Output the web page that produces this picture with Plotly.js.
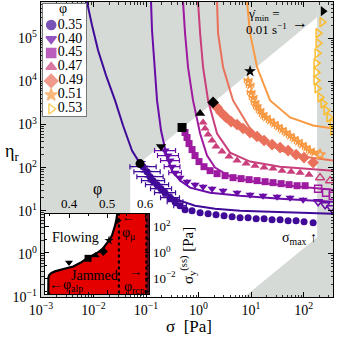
<!DOCTYPE html>
<html><head><meta charset="utf-8">
<script src="https://cdn.plot.ly/plotly-3.0.1.min.js"></script>
<style>html,body{margin:0;padding:0;background:#fff}#chart{width:337px;height:337px}</style>
</head><body><div id="chart"></div>
<script>
// ---------- categories / styles ----------
const phiLabels = ['0.35','0.40','0.45','0.47','0.49','0.51','0.53'];
const colors = ['#400a98','#6a0ca8','#9e1aa0','#c93f7c','#e9705a','#f89a44','#fbbd2c'];
const symbols = ['circle','triangle-down','square','triangle-up','diamond','star','triangle-right-open'];
const openSymbols = ['circle-open','triangle-down-open','square-open','triangle-up-open','diamond-open','star-open','triangle-right-open'];
const blackSymbols = ['circle','triangle-down','square','triangle-up','diamond','star','triangle-right'];
const sizes = [7,8,7,8,9,8,8];

// ---------- main data: sigma [Pa], eta_r ----------
const sig035 = [0.0877,0.1045,0.119,0.136,0.162,0.193,0.230,0.286,0.357,0.444,0.553,0.752,1.07,1.52,2.15,3.06,4.35,6.17,8.77,12.5,17.7,25.1,35.7,50.7,72.0,102,152];
const eta035 = [105,80.7,61.8,49.9,40.3,32.5,26.2,20.1,16.2,13.1,10.6,10.0,8.98,8.51,8.07,7.65,7.25,6.87,6.87,6.51,6.51,6.18,6.18,5.85,5.85,5.55,5.26];
const errX035 = [0.25,0.25,0.25,0.22,0.22,0.2,0.2,0.18,0.15,0.12];
const errY035 = [0.12,0.12,0.12,0.1,0.1,0.1,0.08,0.08,0.06,0.05];

const sig040 = [0.230,0.262,0.286,0.313,0.357,0.444,0.604,0.857,1.22,1.81,2.93,5.41,9.57,16.9,31.3,55.3,97.8];
const eta040 = [248,190,146,105,76.5,58.5,47.2,40.3,36.2,32.5,29.2,26.2,23.6,22.3,21.2,20.1,18.0];
const errX040 = [0.2,0.2,0.18,0.15,0.12];
const sig040o = [189,257,334];
const eta040o = [16.2,13.8,11.7];

const sig045 = [0.553,0.604,0.659,0.752,0.857,1.02,1.27,1.66,2.25,3.20,4.54,6.45,9.16,13.0,18.5,26.2,37.3,52.9,75.2,107];
const eta045 = [651,499,361,262,190,138,105,85.1,72.5,65.1,58.5,55.5,52.6,49.9,47.2,44.8,42.5,40.3,38.1,38.1];
const sig045o = [189,268,360];
const eta045o = [32.5,26.2,22.3];

const sig047 = [1.22,1.33,1.52,1.81,2.15,2.80,3.81,5.41,8.03,11.9,17.7,26.2,38.9,57.8,85.7,127];
const eta047 = [1110,807,585,425,308,236,180,146,124,111,100,94.8,85.1,80.7,76.5,68.7];
const sig047o = [206,320];
const eta047o = [58.5,49.9];

const sig049 = [2.25,2.68,3.35,4.16,5.41,7.05,9.57,13.0,17.7,25.1,35.7,50.7,72.0,102,152];
const eta049 = [2490,1900,1460,1170,1000,807,651,526,425,343,292,248,200,171,131];

const sig051 = [8.77,9.57,10.0,10.9,11.9,13.0,14.8,16.9,19.3,23.0,27.4,32.7,38.9,46.4,55.3,65.9,78.6,93.6,112,133,158];
const eta051 = [10500,8070,5550,4250,3250,2620,2120,1710,1460,1240,1050,898,765,651,555,472,403,343,292,248,223];
const errX051 = [0.07,0.07,0.07,0.07,0.07,0.07,0.07,0.07,0.07,0.07,0.07,0.07,0.07,0.07,0.07,0.07,0.07,0.07,0.07,0.07,0.07];
const sig051o = [206];
const eta051o = [200];

const sig053 = [225,189,189,181,173,173,173,181,206,235,268,306,349,360];
const eta053 = [236000,131000,76500,44800,26200,16200,10500,6870,4250,3080,2120,1460,1050,725];

// yield points (black markers, on the minimum shear-rate line)
const sigYield = [0.0769,0.193,0.485,1.07,1.89,9.57,235];
const etaYield = [124,308,851,1800,3250,17100,425000];

// model curves
const line035s = [0.00719,0.00752,0.00936,0.0122,0.0173,0.0257,0.0365,0.0540,0.0769,0.119,0.185,0.286,0.444,0.857,2.06,6.17,23.0,85.7,365];
const line035e = [1.17e6,687000,200000,52600,13800,3610,948,248,124,58.5,34.3,22.3,17.1,13.1,11.1,10.0,9.48,8.98,8.51];
const line040s = [0.119,0.1245,0.130,0.142,0.162,0.193,0.251,0.313,0.444,0.689,1.66,6.17,35.7,365];
const line040e = [1.17e6,687000,153000,30800,3610,725,171,85.1,49.9,34.3,26.2,22.3,19.0,16.2];
const line045s = [0.485,0.507,0.553,0.631,0.785,1.07,1.45,2.06,3.98,14.8,85.7,365];
const line045e = [1.17e6,687000,131000,21200,3610,618,190,100,61.8,44.8,36.2,30.8];
const line047s = [0.936,0.978,1.07,1.22,1.52,2.25,3.98,9.57,35.7,365];
const line047e = [1.17e6,687000,131000,21200,3610,618,223,138,105,85.1];
const line049s = [2.15,2.25,2.35,2.93,4.54,10.9,35.7,133,365];
const line049e = [1.17e6,687000,131000,21200,3610,618,248,171,146];
const line051s = [8.03,8.39,9.57,13.0,23.0,55.3,152,365];
const line051e = [1.17e6,687000,131000,21200,3610,1460,948,807];

// accessible window
const sigmaMin = 0.05, sigmaMax = 181;
const etaPerSigmaUpper = 1700;   // gamma_dot_min line
const etaPerSigmaLower = 0.0135; // gamma_dot_max line

// ---------- inset data ----------
const inPhi = [0.3455,0.3455,0.346,0.348,0.353,0.363,0.376,0.393,0.411,0.43,0.447,0.462,0.476,0.489,0.50,0.507,0.513,0.518,0.521,0.524,0.526,0.528];
const inSig = [4e-4,6.3e-3,0.0112,0.0178,0.0251,0.0347,0.0417,0.0603,0.0832,0.158,0.347,0.631,1.0,2.0,4.9,10,20.4,50,120,316,708,1580];
const inPhiPts = [0.40,0.45,0.47,0.49,0.505,0.529];
const inSigPts = [0.17,0.35,0.59,1.2,8.3,290];
const phiMu = 0.531, phiRcp = 0.603;

// ---------- tick labels ----------
const xTickVals = [1e-3,1e-2,1e-1,1,10,100];
const xTickText = ['10<sup>−3</sup>','10<sup>−2</sup>','10<sup>−1</sup>','10<sup>0</sup>','10<sup>1</sup>','10<sup>2</sup>'];
const yTickVals = [0.1,1,10,100,1e3,1e4,1e5];
const yTickText = ['10<sup>−1</sup>','10<sup>0</sup>','10<sup>1</sup>','10<sup>2</sup>','10<sup>3</sup>','10<sup>4</sup>','10<sup>5</sup>'];
const inXTickVals = [0.4,0.5,0.6];
const inYTickVals = [0.01,1,100];
const inYTickText = ['10<sup>−2</sup>','10<sup>0</sup>','10<sup>2</sup>'];

// ---------- build ----------
const FONT = 'Liberation Serif, DejaVu Serif, serif';
const GRAY = '#d6dad6';
const traces = [];
function errP(v, d){ return v.map((x,i)=> d[i]==null ? null : x*(Math.pow(10,d[i])-1)); }
function errM(v, d){ return v.map((x,i)=> d[i]==null ? null : x*(1-Math.pow(10,-d[i]))); }

// gray excluded regions
const lo = 1e-4, hi = 1e4, etaLo = 1e-3, etaHi = 1e8;
traces.push({x:[lo,sigmaMin,sigmaMin,sigmaMax,sigmaMax,lo], y:[etaLo,etaLo,etaPerSigmaUpper*sigmaMin,etaPerSigmaUpper*sigmaMax,etaHi,etaHi],
  fill:'toself', fillcolor:GRAY, mode:'none', hoverinfo:'skip', showlegend:false});
traces.push({x:[sigmaMax,hi,hi,etaLo/etaPerSigmaLower,sigmaMax], y:[etaHi,etaHi,etaLo,etaLo,etaPerSigmaLower*sigmaMax],
  fill:'toself', fillcolor:GRAY, mode:'none', hoverinfo:'skip', showlegend:false});

const lines = [[line035s,line035e],[line040s,line040e],[line045s,line045e],[line047s,line047e],[line049s,line049e],[line051s,line051e]];
lines.forEach((l,i)=>traces.push({x:l[0], y:l[1], mode:'lines', line:{color:colors[i], width:2}, hoverinfo:'skip', showlegend:false}));

const series = [
  {s:sig035,e:eta035,so:[],eo:[],ex:errX035,ey:errY035},
  {s:sig040,e:eta040,so:sig040o,eo:eta040o,ex:errX040},
  {s:sig045,e:eta045,so:sig045o,eo:eta045o},
  {s:sig047,e:eta047,so:sig047o,eo:eta047o},
  {s:sig049,e:eta049,so:[],eo:[]},
  {s:sig051,e:eta051,so:sig051o,eo:eta051o,ex:errX051},
  {s:sig053,e:eta053,so:[],eo:[]}
];
series.forEach((d,i)=>{
  const t = {x:d.s, y:d.e, mode:'markers', hoverinfo:'skip', showlegend:false,
    marker:{symbol:symbols[i], size:sizes[i], color:colors[i], line:{width: symbols[i].endsWith('open')?1.5:0, color:colors[i]}}};
  if(d.ex){ t.error_x = {type:'data', symmetric:false, array:errP(d.s,d.ex), arrayminus:errM(d.s,d.ex), color:colors[i], thickness:1.2, width:2.5}; }
  if(d.ey){ t.error_y = {type:'data', symmetric:false, array:errP(d.e,d.ey), arrayminus:errM(d.e,d.ey), color:colors[i], thickness:1.2, width:2.5}; }
  traces.push(t);
  if(d.so.length){
    traces.push({x:d.so, y:d.eo, mode:'markers', hoverinfo:'skip', showlegend:false,
      marker:{symbol:openSymbols[i], size:sizes[i], color:colors[i], line:{width:1.5, color:colors[i]}}});
  }
});
traces.push({x:sigYield, y:etaYield, mode:'markers', hoverinfo:'skip', showlegend:false,
  marker:{symbol:blackSymbols, size:9, color:'black'}});

// ---------- inset ----------
traces.push({x:[0.3,0.7,0.7,0.3], y:[1e-5,1e-5,1e5,1e5], xaxis:'x2', yaxis:'y2', fill:'toself', fillcolor:'white', mode:'none', hoverinfo:'skip', showlegend:false});
traces.push({x:inPhi.concat([0.7,0.7]), y:inSig.concat([inSig[inSig.length-1], inSig[0]]), xaxis:'x2', yaxis:'y2',
  fill:'toself', fillcolor:'#e50000', mode:'none', hoverinfo:'skip', showlegend:false});
traces.push({x:[phiRcp,0.7,0.7,phiRcp], y:[1e-5,1e-5,1e5,1e5], xaxis:'x2', yaxis:'y2', fill:'toself', fillcolor:'#5a0d1e', mode:'none', hoverinfo:'skip', showlegend:false});
[phiMu, phiRcp].forEach(p=>traces.push({x:[p,p], y:[1e-5,1e5], xaxis:'x2', yaxis:'y2', mode:'lines', line:{color:'black', width:2.2, dash:'dot'}, hoverinfo:'skip', showlegend:false}));
traces.push({x:inPhi, y:inSig, xaxis:'x2', yaxis:'y2', mode:'lines', line:{color:'black', width:2.2}, hoverinfo:'skip', showlegend:false});
traces.push({x:inPhiPts, y:inSigPts, xaxis:'x2', yaxis:'y2', mode:'markers', hoverinfo:'skip', showlegend:false,
  marker:{symbol:blackSymbols.slice(1), size:7, color:'black'}});

// ---------- legend panel ----------
traces.push({x:[0,1,1,0], y:[-2,-2,8,8], xaxis:'x3', yaxis:'y3', fill:'toself', fillcolor:'white', mode:'none', hoverinfo:'skip', showlegend:false});
traces.push({x:phiLabels.map(()=>0.19), y:phiLabels.map((_,i)=>i), text:phiLabels, xaxis:'x3', yaxis:'y3', mode:'markers+text',
  textposition:'middle right', textfont:{family:FONT, size:14, color:'black'}, hoverinfo:'skip', showlegend:false,
  marker:{symbol:symbols, size:[9,9,9,9,10,9,9], color:colors, line:{width:1.6, color:colors}}});

const axBase = {showgrid:false, zeroline:false, showline:true, linecolor:'black', linewidth:1.3, ticks:'inside', tickcolor:'black', tickwidth:1, mirror:'allticks'};
const paper = (px,py)=>({x:(px-41)/292, y:(297-py)/295});
function ann(text, px, py, size, extra){ const p = paper(px,py); return Object.assign({text, x:p.x, y:p.y, xref:'paper', yref:'paper', showarrow:false, xanchor:'center', yanchor:'middle', font:{family:FONT, size:size, color:'black'}}, extra||{}); }

const layout = {
  width:337, height:337, margin:{l:41, r:4, t:2, b:40},
  paper_bgcolor:'white', plot_bgcolor:'white', font:{family:FONT, color:'black'}, showlegend:false,
  xaxis: Object.assign({}, axBase, {type:'log', range:[-3,2.56], tickmode:'array', tickvals:xTickVals, ticktext:xTickText, ticklen:5,
    tickfont:{family:FONT,size:14,color:'black'}, minor:{ticks:'inside', ticklen:2.5, tickcolor:'black', tickwidth:0.8, dtick:'D1', showgrid:false}}),
  yaxis: Object.assign({}, axBase, {type:'log', range:[-1,5.84], tickmode:'array', tickvals:yTickVals, ticktext:yTickText, ticklen:5,
    tickfont:{family:FONT,size:14,color:'black'}, minor:{ticks:'inside', ticklen:2.5, tickcolor:'black', tickwidth:0.8, dtick:'D1', showgrid:false}}),
  xaxis2: Object.assign({}, axBase, {domain:[0.0137,0.370], anchor:'y2', side:'top', range:[0.337,0.61], tickmode:'array', tickvals:inXTickVals, ticklen:4,
    tickfont:{family:FONT,size:13,color:'black'}, minor:{ticks:'inside', ticklen:2, tickcolor:'black', dtick:0.05}}),
  yaxis2: Object.assign({}, axBase, {domain:[0.0102,0.281], anchor:'x2', side:'right', type:'log', range:[-3.2,2.95], tickmode:'array', tickvals:inYTickVals, ticktext:inYTickText, ticklen:4,
    tickfont:{family:FONT,size:13,color:'black'}, minor:{ticks:'inside', ticklen:2, tickcolor:'black', tickvals:[1e-3,0.1,10,1000]}}),
  xaxis3: {domain:[0.00685,0.154], anchor:'y3', range:[0,1], showgrid:false, zeroline:false, showticklabels:false, ticks:'', showline:true, mirror:true, linecolor:'#777', linewidth:1, fixedrange:true},
  yaxis3: {domain:[0.614,0.993], anchor:'x3', range:[6.5,-1.5], showgrid:false, zeroline:false, showticklabels:false, ticks:'', showline:true, mirror:true, linecolor:'#777', linewidth:1, fixedrange:true},
  annotations: [
    {text:'φ', x:0.47, y:-1.15, xref:'x3', yref:'y3', showarrow:false, font:{family:FONT,size:14,color:'black'}},
    ann('η<sub>r</sub>', 12, 152, 18),
    ann('σ  [Pa]', 189, 326, 17),
    ann('γ̇<sub>min</sub> =', 264, 14, 13),
    ann('0.01 s<sup>−1</sup>', 266, 29, 13),
    ann('→', 300, 23, 16),
    ann('σ<sub>max</sub> ↑', 299, 238, 14),
    ann('Flowing', 75, 237, 14),
    ann('Jammed', 94, 275, 14),
    ann('←φ<sub>alp</sub>', 66, 285, 14),
    ann('←', 128, 217, 12),
    ann('φ<sub>μ</sub>', 128, 233, 14),
    ann('→', 135, 271, 13),
    ann('φ<sub>rcp</sub>', 134, 287, 14),
    ann('φ', 97, 189, 16),
    ann('σ<sub>y</sub><sup>(ss)</sup> [Pa]', 188, 256, 15, {textangle:-90})
  ]
};
Plotly.newPlot('chart', traces, layout, {staticPlot:true, displayModeBar:false});
</script></body></html>
